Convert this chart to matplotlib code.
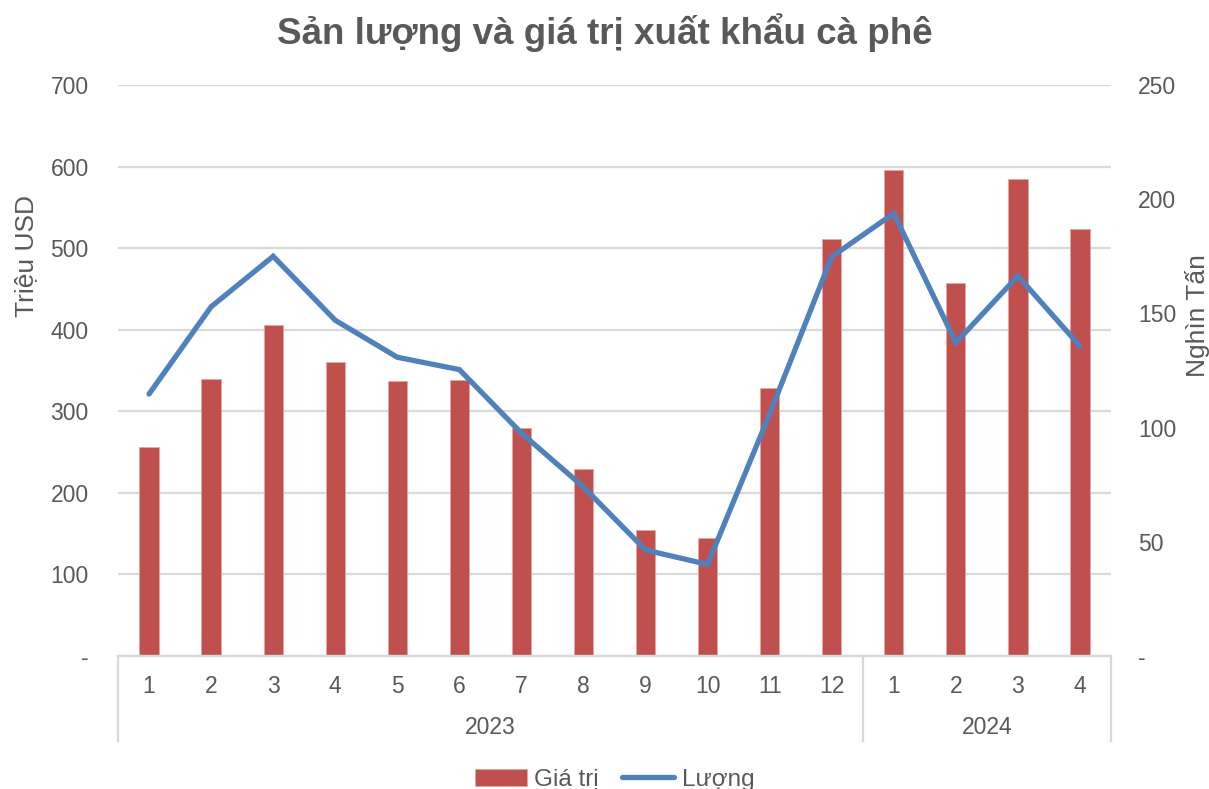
import matplotlib.pyplot as plt
import matplotlib.transforms as mtransforms
from matplotlib.ticker import FixedLocator, FuncFormatter

plt.rcParams['font.family'] = ['Liberation Sans', 'DejaVu Sans']

months = ["1", "2", "3", "4", "5", "6", "7", "8", "9", "10", "11", "12", "1", "2", "3", "4"]
years = ["2023", "2024"]
year_counts = [12, 4]
gia_tri = [256, 340, 406, 361, 337, 338, 280, 229, 155, 145, 328, 511, 596, 457, 585, 523]
luong = [114.7, 152.9, 175.0, 147.0, 130.8, 125.4, 97.6, 74.0, 46.4, 40.1, 106.0, 174.8, 193.8, 137.2, 166.4, 135.7]

TEXT = "#595959"
GRID = "#d9d9d9"
RED = "#c0504d"
BLUE = "#4f81bd"

fig = plt.figure(figsize=(12.09, 7.89), dpi=100)
ax = fig.add_axes([118 / 1209, 1 - 656 / 789, (1111 - 118) / 1209, (656 - 85) / 789])
ax2 = ax.twinx()

x = list(range(len(months)))
bars = ax.bar(x, gia_tri, width=0.31, color=RED, edgecolor="#e6a5a3", linewidth=0.6, zorder=2, label="Giá trị")
line, = ax2.plot(x, luong, color=BLUE, linewidth=3.8, solid_capstyle="round", solid_joinstyle="miter", label="Lượng")

ax.set_xlim(-0.5, len(months) - 0.5)
ax.set_ylim(0, 700)
ax2.set_ylim(0, 250)

ax.yaxis.set_major_locator(FixedLocator(range(0, 701, 100)))
ax2.yaxis.set_major_locator(FixedLocator(range(0, 251, 50)))
fmt = FuncFormatter(lambda v, p: "-" if v == 0 else f"{int(v)}")
ax.yaxis.set_major_formatter(fmt)
ax2.yaxis.set_major_formatter(fmt)

ax.grid(axis="y", color=GRID, linewidth=1.6, zorder=0)
ax.set_axisbelow(True)
for a in (ax, ax2):
    for s in ("left", "right", "top"):
        a.spines[s].set_visible(False)
    a.spines["bottom"].set_color(GRID)
    a.spines["bottom"].set_linewidth(1.6)
    a.tick_params(axis="y", length=0, labelsize=16.5, labelcolor=TEXT)

ax.tick_params(axis="y", pad=21)
ax2.tick_params(axis="y", pad=19.5)
for t in ax2.get_yticklabels():
    t.set_horizontalalignment("left")

ax.set_xticks(x)
ax.set_xticklabels(months)
ax.tick_params(axis="x", length=0, labelsize=16.5, labelcolor=TEXT, pad=14)

ax.set_ylabel("Triệu USD", fontsize=19, color=TEXT)
ax.yaxis.set_label_coords(-0.080, 0.70)
ax2.set_ylabel("Nghìn Tấn", fontsize=19, color=TEXT)
ax2.yaxis.set_label_coords(1.075, 0.597)

# year groups and separators under the axis
trans = mtransforms.blended_transform_factory(ax.transData, ax.transAxes)
sep_depth = -(741 - 656) / (656 - 85)
start = -0.5
edges = [start]
for yr, n in zip(years, year_counts):
    end = start + n
    ax.text((start + end) / 2, -0.125, yr, transform=trans, ha="center", va="center", fontsize=16.5, color=TEXT)
    edges.append(end)
    start = end
for e in edges:
    ax.plot([e, e], [0, sep_depth], transform=trans, color=GRID, linewidth=1.6, clip_on=False)

ax.legend([bars, line], ["Giá trị", "Lượng"], loc="lower center", bbox_to_anchor=(0.5, -0.274),
          ncol=2, frameon=False, fontsize=17.5, labelcolor=TEXT, handlelength=2.15, handletextpad=0.3,
          columnspacing=0.95)

fig.suptitle("Sản lượng và giá trị xuất khẩu cà phê", fontsize=26.5, fontweight="bold", color=TEXT, y=0.983)

fig.savefig("out.png", dpi=100)
